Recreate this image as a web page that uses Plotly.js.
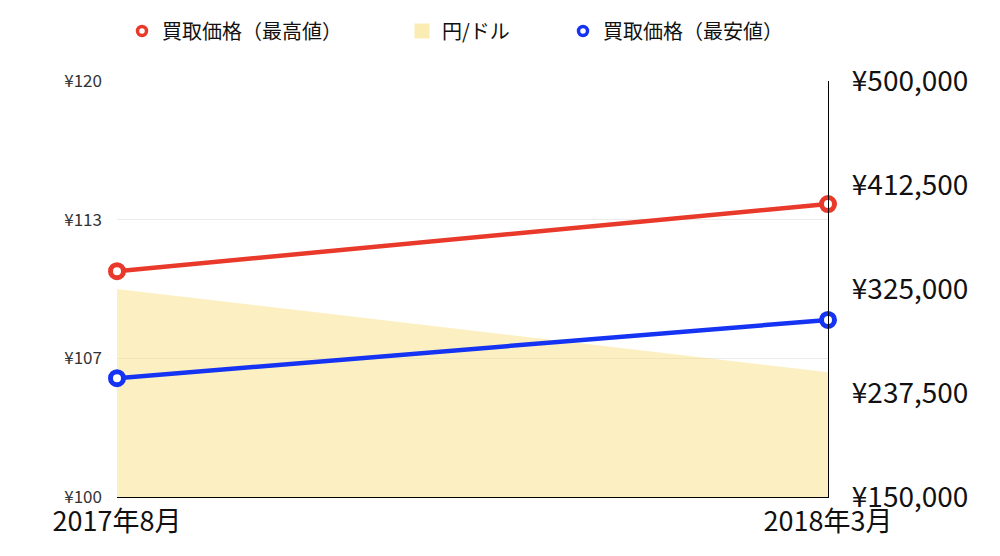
<!DOCTYPE html>
<html><head><meta charset="utf-8">
<script src="https://cdn.plot.ly/plotly-3.0.1.min.js"></script>
<style>html,body{margin:0;padding:0;background:#fff}#c{width:1000px;height:556px}</style>
</head><body><div id="c"></div>
<script>
const categories = ['2017年8月', '2018年3月'];
const highPrice = [340000, 396500];
const lowPrice = [250000, 299000];
const yenPerDollar = [110.0, 106.0];
const leftTickVals = [100, 106.667, 113.333, 120];
const leftTickText = ['¥100', '¥107', '¥113', '¥120'];
const rightTickVals = [150000, 237500, 325000, 412500, 500000];
const rightTickText = ['¥150,000', '¥237,500', '¥325,000', '¥412,500', '¥500,000'];
const names = ['買取価格（最高値）', '円/ドル', '買取価格（最安値）'];

const FONT = '"Noto Sans CJK JP", "Noto Sans", sans-serif';
const xs = categories.map((c, i) => i);
const RED = '#e8392b', BLUE = '#1533f2', FILL = 'rgba(248,222,120,0.45)';

const traces = [
  {
    x: xs, y: yenPerDollar, name: names[1], type: 'scatter', mode: 'none',
    fill: 'tozeroy', fillcolor: FILL, yaxis: 'y', showlegend: false, hoverinfo: 'skip'
  },
  {
    x: xs, y: highPrice, name: names[0], type: 'scatter', mode: 'lines+markers',
    yaxis: 'y2', showlegend: false,
    line: {color: RED, width: 4.5},
    marker: {symbol: 'circle', size: 13, color: '#ffffff', line: {color: RED, width: 5}},
    cliponaxis: false
  },
  {
    x: xs, y: lowPrice, name: names[2], type: 'scatter', mode: 'lines+markers',
    yaxis: 'y2', showlegend: false,
    line: {color: BLUE, width: 4.5},
    marker: {symbol: 'circle', size: 13, color: '#ffffff', line: {color: BLUE, width: 5}},
    cliponaxis: false
  },
  // legend entries (marker-only swatches, as in the reference legend)
  {
    x: [null], y: [null], name: names[0], type: 'scatter', mode: 'markers', legend: 'legend',
    marker: {symbol: 'circle', size: 9, color: '#ffffff', line: {color: RED, width: 3.5}}
  },
  {
    x: [null], y: [null], name: names[1], type: 'scatter', mode: 'markers', legend: 'legend2',
    marker: {symbol: 'square', size: 15, color: 'rgba(250,234,170,0.9)', line: {width: 0}}
  },
  {
    x: [null], y: [null], name: names[2], type: 'scatter', mode: 'markers', legend: 'legend3',
    marker: {symbol: 'circle', size: 9, color: '#ffffff', line: {color: BLUE, width: 3.5}}
  }
];

const legBase = {
  orientation: 'h', xref: 'container', yref: 'container', yanchor: 'middle', xanchor: 'left',
  y: 1 - 31 / 556, bgcolor: 'rgba(0,0,0,0)', font: {family: FONT, size: 20, color: '#111'}
};

const layout = {
  width: 1000, height: 556,
  margin: {l: 117, r: 172, t: 81, b: 59},
  paper_bgcolor: '#fff', plot_bgcolor: '#fff',
  font: {family: FONT, color: '#111'},
  showlegend: true,
  legend: Object.assign({}, legBase, {x: 122 / 1000}),
  legend2: Object.assign({}, legBase, {x: 402 / 1000}),
  legend3: Object.assign({}, legBase, {x: 563 / 1000}),
  xaxis: {
    range: [0, 1], tickvals: xs, ticktext: categories,
    showgrid: false, zeroline: false, showline: true, linecolor: '#000', linewidth: 1.2,
    ticks: '', tickfont: {family: FONT, size: 27, color: '#111'}, ticklabelstandoff: 0,
    fixedrange: true
  },
  yaxis: {
    range: [100, 120], tickvals: leftTickVals, ticktext: leftTickText,
    showgrid: true, gridcolor: '#ebebeb', gridwidth: 1, zeroline: false, showline: false,
    ticks: '', ticklabelstandoff: 14, tickfont: {family: FONT, size: 17, color: '#333'}
  },
  yaxis2: {
    overlaying: 'y', side: 'right', range: [150000, 500000], tickvals: rightTickVals,
    ticktext: rightTickText, showgrid: false, zeroline: false,
    showline: true, linecolor: '#000', linewidth: 1.2, ticks: '', ticklabelstandoff: 17,
    tickfont: {family: FONT, size: 28, color: '#111'}
  }
};

Plotly.newPlot('c', traces, layout, {displayModeBar: false, staticPlot: true});
</script></body></html>
